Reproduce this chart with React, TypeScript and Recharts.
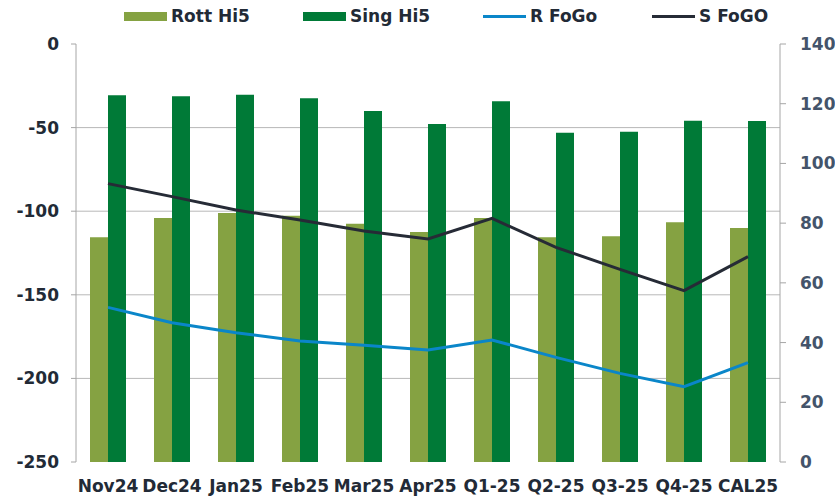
import {
  ComposedChart,
  Bar,
  Line,
  XAxis,
  YAxis,
  CartesianGrid,
} from "recharts";

const categories = ["Nov24", "Dec24", "Jan25", "Feb25", "Mar25", "Apr25", "Q1-25", "Q2-25", "Q3-25", "Q4-25", "CAL25"];
const rottHi5 = [75.3, 81.7, 83.4, 82.5, 79.8, 77.0, 81.7, 75.3, 75.6, 80.3, 78.4];
const singHi5 = [122.8, 122.5, 123.0, 121.8, 117.6, 113.2, 120.8, 110.3, 110.6, 114.3, 114.2];
const rFoGo = [-157.5, -166.7, -172.7, -177.6, -180.2, -183.0, -177.0, -187.4, -197.0, -205.0, -190.6];
const sFoGo = [-83.5, -91.3, -99.3, -105.3, -111.8, -116.6, -104.3, -121.6, -134.8, -147.5, -127.2];

const leftTicks = [0, -50, -100, -150, -200, -250];
const rightTicks = [0, 20, 40, 60, 80, 100, 120, 140];
const gridValues = [-50, -100, -150, -200];

const data = categories.map((name, i) => ({
  name,
  idx: i + 0.5,
  rott: rottHi5[i],
  sing: singHi5[i],
  rfogo: rFoGo[i],
  sfogo: sFoGo[i],
}));

const FONT = "'DejaVu Sans', Verdana, sans-serif";
const TEXT = "#222a36";
const AXIS = "#a6a6a6";

const legendItems = [
  { label: "Rott Hi5", color: "#85a242", kind: "bar", left: 124 },
  { label: "Sing Hi5", color: "#007a37", kind: "bar", left: 303 },
  { label: "R FoGo", color: "#0a86c9", kind: "line", left: 483 },
  { label: "S FoGO", color: "#262b36", kind: "line", left: 652 },
];

function BoundaryTick(props: any) {
  const { x, y } = props;
  return <line x1={x} x2={x} y1={y} y2={y + 5} stroke={AXIS} strokeWidth={1} />;
}

export default function App() {
  return (
    <div style={{ position: "absolute", left: 0, top: 0, width: 835, height: 496, background: "#fff", fontFamily: FONT }}>
      {legendItems.map((it) => (
        <div
          key={it.label}
          style={{
            position: "absolute",
            left: it.left,
            top: 4,
            height: 24,
            display: "flex",
            alignItems: "center",
            fontWeight: 700,
            fontSize: 17,
            color: TEXT,
          }}
        >
          <span
            style={{
              display: "inline-block",
              width: 43,
              height: it.kind === "bar" ? 9 : 3,
              background: it.color,
              marginRight: 4,
            }}
          />
          {it.label}
        </div>
      ))}
      <ComposedChart
        width={835}
        height={496}
        data={data}
        margin={{ top: 44, right: 0, left: 0, bottom: 0 }}
        barGap={0}
        barCategoryGap="21%"
      >
        <CartesianGrid
          yAxisId="left"
          xAxisId="cat"
          vertical={false}
          horizontalValues={gridValues}
          stroke="#b8b8b8"
        />
        <XAxis
          xAxisId="cat"
          dataKey="name"
          interval={0}
          height={34}
          axisLine={false}
          tickLine={false}
          tickSize={0}
          tickMargin={18}
          tick={{ fill: TEXT, fontSize: 17, fontWeight: 700, fontFamily: FONT }}
        />
        <XAxis
          xAxisId="top"
          orientation="top"
          type="number"
          dataKey="idx"
          domain={[0, 11]}
          ticks={[1, 2, 3, 4, 5, 6, 7, 8, 9, 10]}
          height={0}
          tickSize={0}
          tickMargin={0}
          tickLine={false}
          axisLine={{ stroke: AXIS }}
          tick={<BoundaryTick />}
        />
        <YAxis
          yAxisId="left"
          domain={[-250, 0]}
          ticks={leftTicks}
          width={76}
          axisLine={{ stroke: AXIS }}
          tickLine={{ stroke: AXIS }}
          tickSize={5}
          tickMargin={12}
          tick={{ fill: TEXT, fontSize: 17, fontWeight: 700, fontFamily: FONT }}
        />
        <YAxis
          yAxisId="right"
          orientation="right"
          domain={[0, 140]}
          ticks={rightTicks}
          width={55}
          axisLine={{ stroke: AXIS }}
          tickLine={{ stroke: AXIS }}
          tickSize={6}
          tickMargin={14}
          tick={{ fill: "#44546a", fontSize: 17, fontWeight: 700, fontFamily: FONT }}
        />
        <Bar xAxisId="cat" yAxisId="right" dataKey="rott" name="Rott Hi5" fill="#85a242" barSize={18} isAnimationActive={false} />
        <Bar xAxisId="cat" yAxisId="right" dataKey="sing" name="Sing Hi5" fill="#007a37" barSize={18} isAnimationActive={false} />
        <Line
          xAxisId="cat"
          yAxisId="left"
          type="linear"
          dataKey="rfogo"
          name="R FoGo"
          stroke="#0a86c9"
          strokeWidth={3}
          dot={false}
          isAnimationActive={false}
        />
        <Line
          xAxisId="cat"
          yAxisId="left"
          type="linear"
          dataKey="sfogo"
          name="S FoGO"
          stroke="#262b36"
          strokeWidth={3}
          dot={false}
          isAnimationActive={false}
        />
      </ComposedChart>
    </div>
  );
}
